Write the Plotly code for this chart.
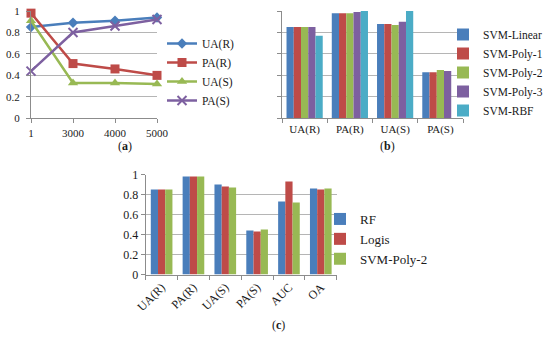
import plotly.graph_objects as go

W, H = 550, 345

# ---------------- data ----------------
a_categories = ["1", "3000", "4000", "5000"]
a_ua_r = [0.85, 0.89, 0.91, 0.94]
a_pa_r = [0.98, 0.51, 0.46, 0.40]
a_ua_s = [0.91, 0.33, 0.33, 0.32]
a_pa_s = [0.44, 0.80, 0.86, 0.92]

b_categories = ["UA(R)", "PA(R)", "UA(S)", "PA(S)"]
b_svm_linear = [0.85, 0.98, 0.88, 0.43]
b_svm_poly1 = [0.85, 0.98, 0.88, 0.43]
b_svm_poly2 = [0.85, 0.98, 0.87, 0.45]
b_svm_poly3 = [0.85, 0.99, 0.90, 0.44]
b_svm_rbf = [0.77, 1.00, 1.00, None]

c_categories = ["UA(R)", "PA(R)", "UA(S)", "PA(S)", "AUC", "OA"]
c_rf = [0.85, 0.98, 0.90, 0.44, 0.73, 0.86]
c_logis = [0.85, 0.98, 0.88, 0.43, 0.93, 0.85]
c_svm_poly2 = [0.85, 0.98, 0.87, 0.45, 0.72, 0.86]

# ---------------- style ----------------
FONT = "Liberation Serif"
TXT = "#1a1a1a"
GRID = "#b5b5b5"
AXL = "#8c8c8c"
BLUE, RED, GREEN, PURPLE, CYAN = "#4a7ebb", "#be4b48", "#98b954", "#7d60a0", "#4bacc6"


def px(x):
    return x / W


def py(y):
    return 1 - y / H


fig = go.Figure()

# ---- panel (a): lines ----
line_series = [
    ("UA(R)", a_ua_r, BLUE, "diamond", 8),
    ("PA(R)", a_pa_r, RED, "square", 9),
    ("UA(S)", a_ua_s, GREEN, "triangle-up", 9),
    ("PA(S)", a_pa_s, PURPLE, "x-thin-open", 9),
]
for name, vals, col, sym, sz in line_series:
    fig.add_trace(go.Scatter(
        x=a_categories, y=vals, name=name, mode="lines+markers",
        line=dict(color=col, width=2.5),
        marker=dict(symbol=sym, size=sz, color=col, line=dict(color=col, width=2 if "x" in sym else 0)),
        xaxis="x", yaxis="y", legend="legend", cliponaxis=False,
    ))

# ---- panel (b): bars ----
b_series = [
    ("SVM-Linear", b_svm_linear, BLUE),
    ("SVM-Poly-1", b_svm_poly1, RED),
    ("SVM-Poly-2", b_svm_poly2, GREEN),
    ("SVM-Poly-3", b_svm_poly3, PURPLE),
    ("SVM-RBF", b_svm_rbf, CYAN),
]
bw = 0.8 / len(b_series)
for i, (name, vals, col) in enumerate(b_series):
    fig.add_trace(go.Bar(
        x=b_categories, y=vals, name=name, marker=dict(color=col, line=dict(width=0)),
        width=bw, offset=-0.4 + i * bw,
        xaxis="x2", yaxis="y2", legend="legend2",
    ))

# ---- panel (c): bars ----
c_series = [
    ("RF", c_rf, BLUE),
    ("Logis", c_logis, RED),
    ("SVM-Poly-2", c_svm_poly2, GREEN),
]
cw = 0.68 / len(c_series)
for i, (name, vals, col) in enumerate(c_series):
    fig.add_trace(go.Bar(
        x=c_categories, y=vals, name=name, marker=dict(color=col, line=dict(width=0)),
        width=cw, offset=-0.34 + i * cw,
        xaxis="x3", yaxis="y3", legend="legend3",
    ))

tickfont = dict(family=FONT, size=11, color=TXT)
ycommon = dict(range=[0, 1], dtick=0.2, showgrid=True, gridcolor=GRID, gridwidth=1,
               showline=True, linecolor=AXL, linewidth=1, ticks="outside", ticklen=4,
               tickcolor=AXL, zeroline=False, fixedrange=True)
xcommon = dict(type="category", showgrid=False, showline=True, linecolor=AXL, linewidth=1,
               ticks="outside", ticklen=4, tickcolor=AXL, zeroline=False, fixedrange=True)

fig.update_layout(
    width=W, height=H, autosize=False,
    margin=dict(l=0, r=0, t=0, b=0, pad=0, autoexpand=False),
    paper_bgcolor="white", plot_bgcolor="white",
    barmode="overlay",
    font=dict(family=FONT, color=TXT),
    xaxis=dict(**xcommon, domain=[px(31), px(157)], anchor="y", range=[0, 3], tickfont=tickfont),
    yaxis=dict(**ycommon, domain=[py(118.3), py(11)], anchor="x", tickfont=tickfont,
               ticklabelstandoff=4),
    xaxis2=dict(**xcommon, domain=[px(282), px(463)], anchor="y2", range=[-0.5, 3.5],
                tickson="boundaries", tickfont=tickfont),
    yaxis2=dict(**ycommon, domain=[py(118.3), py(11)], anchor="x2", showticklabels=False),
    xaxis3=dict(**xcommon, domain=[px(145.7), px(336.7)], anchor="y3", range=[-0.5, 5.5],
                tickson="boundaries", tickangle=-45, tickfont=dict(family=FONT, size=12, color=TXT)),
    yaxis3=dict(**ycommon, domain=[py(274.6), py(174.5)], anchor="x3",
                tickfont=dict(family=FONT, size=12, color=TXT)),
    legend=dict(x=px(162), y=py(29), xanchor="left", yanchor="top", bgcolor="rgba(0,0,0,0)",
                font=dict(family=FONT, size=11.5, color=TXT), itemwidth=30),
    legend2=dict(x=px(443), y=py(20), xanchor="left", yanchor="top", bgcolor="rgba(0,0,0,0)",
                 font=dict(family=FONT, size=11.5, color=TXT), itemwidth=30),
    legend3=dict(x=px(320), y=py(204), xanchor="left", yanchor="top", bgcolor="rgba(0,0,0,0)",
                 font=dict(family=FONT, size=13, color=TXT), itemwidth=30),
    showlegend=True,
    annotations=[
        dict(text="(<b>a</b>)", x=px(116), y=py(146), xref="paper", yref="paper",
             showarrow=False, font=dict(family=FONT, size=12, color=TXT)),
        dict(text="(<b>b</b>)", x=px(397), y=py(146), xref="paper", yref="paper",
             showarrow=False, font=dict(family=FONT, size=12, color=TXT)),
        dict(text="(<b>c</b>)", x=px(278), y=py(334), xref="paper", yref="paper",
             showarrow=False, font=dict(family=FONT, size=12, color=TXT)),
    ],
)

fig.write_html(
    "out.html",
    config={"displayModeBar": False},
    post_script="document.body.style.margin='0';document.body.style.padding='0';"
                "document.body.style.overflow='hidden';",
)
